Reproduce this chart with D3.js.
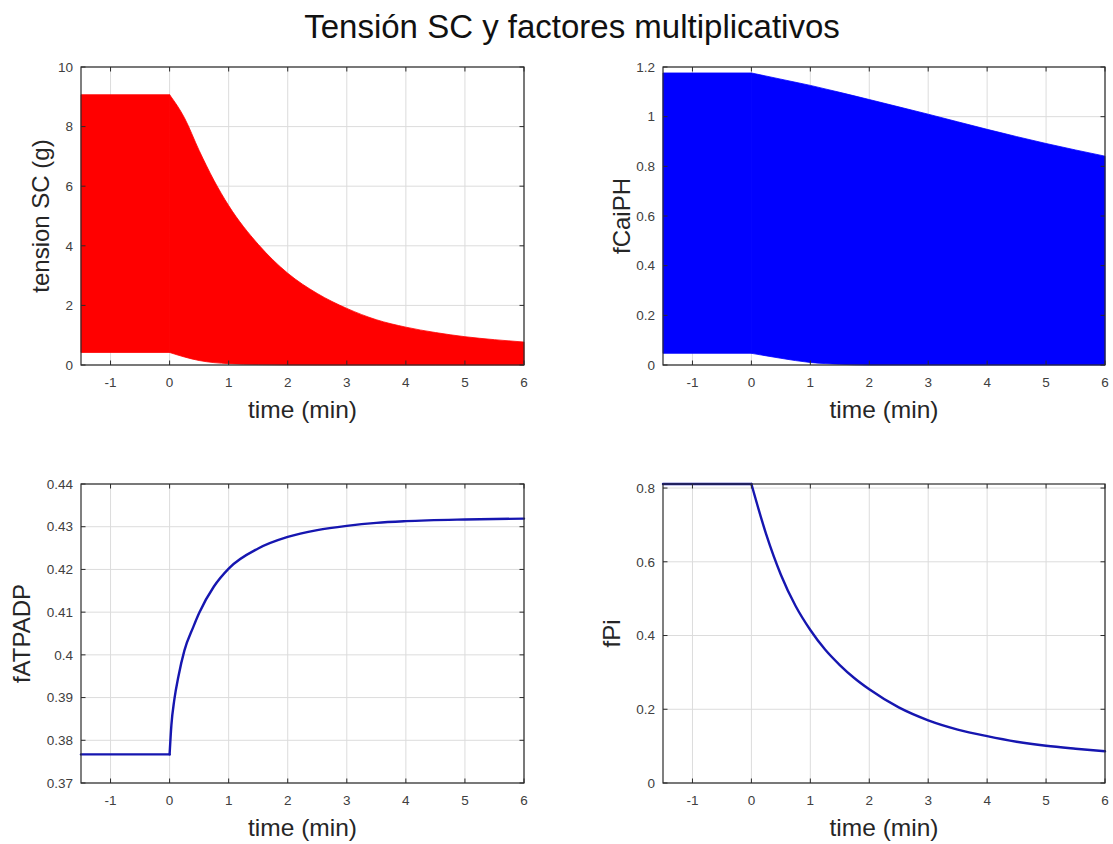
<!DOCTYPE html>
<html>
<head>
<meta charset="utf-8">
<script src="https://cdn.jsdelivr.net/npm/d3@7"></script>
<style>
  html, body { margin: 0; padding: 0; background: #ffffff; }
  svg { display: block; font-family: "Liberation Sans", Arial, Helvetica, sans-serif; }
</style>
</head>
<body>
<svg id="chart" width="1113" height="844"></svg>
<script>
// ---------------- DATA ----------------
const titleText = "Tensión SC y factores multiplicativos";
const xLabel = "time (min)";
const xTicks = [-1, 0, 1, 2, 3, 4, 5, 6];
const xDomain = [-1.5, 6];

// Panel 1: tension SC (g) — oscillation band (upper / lower envelopes)
const tensionTime  = [-1.5, 0, 0.25, 0.5, 0.75, 1, 1.5, 2, 2.5, 3, 3.5, 4, 4.5, 5, 5.5, 6];
const tensionUpper = [9.07, 9.07, 8.3, 7.2, 6.2, 5.35, 4.05, 3.08, 2.4, 1.9, 1.52, 1.27, 1.09, 0.95, 0.85, 0.77];
const tensionLower = [0.42, 0.42, 0.27, 0.15, 0.08, 0.045, 0.015, 0.004, 0, 0, 0, 0, 0, 0, 0, 0];
const tensionYTicks = [0, 2, 4, 6, 8, 10];

// Panel 2: fCaiPH — oscillation band
const fCaiTime  = [-1.5, 0, 0.5, 1, 1.5, 2, 3, 4, 5, 6];
const fCaiUpper = [1.176, 1.176, 1.151, 1.126, 1.098, 1.069, 1.01, 0.949, 0.892, 0.841];
const fCaiLower = [0.047, 0.047, 0.027, 0.01, 0.003, 0, 0, 0, 0, 0];
const fCaiYTicks = [0, 0.2, 0.4, 0.6, 0.8, 1, 1.2];

// Panel 3: fATPADP
const fatpTime  = [-1.5, 0, 0.03, 0.08, 0.15, 0.25, 0.4, 0.5, 0.75, 1, 1.5, 2, 2.5, 3, 3.5, 4, 5, 6];
const fatpValue = [0.3767, 0.3767, 0.3835, 0.3895, 0.3950, 0.4010, 0.4065, 0.4098, 0.416, 0.4202, 0.4249, 0.4276, 0.4292, 0.4302, 0.4309, 0.4313, 0.4317, 0.4319];
const fatpYTicks = [0.37, 0.38, 0.39, 0.4, 0.41, 0.42, 0.43, 0.44];

// Panel 4: fPi
const fPiTime  = [-1.5, 0, 0.25, 0.5, 0.75, 1, 1.25, 1.5, 1.75, 2, 2.5, 3, 3.5, 4, 4.5, 5, 5.5, 6];
const fPiValue = [0.811, 0.811, 0.675, 0.565, 0.48, 0.415, 0.362, 0.32, 0.284, 0.254, 0.205, 0.17, 0.145, 0.127, 0.112, 0.101, 0.093, 0.086];
const fPiYTicks = [0, 0.2, 0.4, 0.6, 0.8];

// ---------------- LAYOUT ----------------
const svg = d3.select("#chart");
const cols = [[81, 524], [663, 1105]];
const rows = [[67, 365], [484, 783]];

svg.append("text")
  .attr("x", 572).attr("y", 38)
  .attr("text-anchor", "middle")
  .attr("font-size", 33)
  .attr("fill", "#111")
  .text(titleText);

// split a series into the flat (t<=0) and transient (t>=0) parts
function splitAtZero(pts) {
  return [pts.filter(d => d.t <= 0), pts.filter(d => d.t >= 0)];
}

function panel(cfg) {
  const [x0, x1] = cols[cfg.col];
  const [y0, y1] = rows[cfg.row];
  const x = d3.scaleLinear().domain(xDomain).range([x0, x1]);
  const y = d3.scaleLinear().domain(cfg.yDomain).range([y1, y0]);
  const g = svg.append("g");

  // grid
  g.selectAll(".gx").data(xTicks).enter().append("line")
    .attr("x1", d => x(d)).attr("x2", d => x(d))
    .attr("y1", y0).attr("y2", y1)
    .attr("stroke", "#dcdcdc").attr("stroke-width", 1);
  g.selectAll(".gy").data(cfg.yTicks).enter().append("line")
    .attr("x1", x0).attr("x2", x1)
    .attr("y1", d => y(d)).attr("y2", d => y(d))
    .attr("stroke", "#dcdcdc").attr("stroke-width", 1);

  // data
  if (cfg.type === "band") {
    const pts = cfg.t.map((t, i) => ({ t, hi: cfg.hi[i], lo: cfg.lo[i] }));
    const [flat, trans] = splitAtZero(pts);
    [[flat, d3.curveLinear], [trans, d3.curveMonotoneX]].forEach(([seg, curve]) => {
      const area = d3.area()
        .x(d => x(d.t)).y0(d => y(d.lo)).y1(d => y(d.hi))
        .curve(curve);
      g.append("path").datum(seg)
        .attr("d", area)
        .attr("fill", cfg.color)
        .attr("stroke", cfg.color).attr("stroke-width", 0.8);
    });
  } else {
    const pts = cfg.t.map((t, i) => ({ t, v: cfg.v[i] }));
    const [flat, trans] = splitAtZero(pts);
    [[flat, d3.curveLinear], [trans, d3.curveMonotoneX]].forEach(([seg, curve]) => {
      const line = d3.line().x(d => x(d.t)).y(d => y(d.v)).curve(curve);
      g.append("path").datum(seg)
        .attr("d", line)
        .attr("fill", "none")
        .attr("stroke", cfg.color).attr("stroke-width", 2.4)
        .attr("stroke-linejoin", "round").attr("stroke-linecap", "round");
    });
  }

  // box
  g.append("rect")
    .attr("x", x0).attr("y", y0).attr("width", x1 - x0).attr("height", y1 - y0)
    .attr("fill", "none").attr("stroke", "#2b2b2b").attr("stroke-width", 1.2);

  // ticks (inward, all sides)
  const tl = 4.5;
  xTicks.forEach(d => {
    g.append("line").attr("x1", x(d)).attr("x2", x(d)).attr("y1", y1).attr("y2", y1 - tl)
      .attr("stroke", "#2b2b2b").attr("stroke-width", 1);
    g.append("line").attr("x1", x(d)).attr("x2", x(d)).attr("y1", y0).attr("y2", y0 + tl)
      .attr("stroke", "#2b2b2b").attr("stroke-width", 1);
  });
  cfg.yTicks.forEach(d => {
    g.append("line").attr("x1", x0).attr("x2", x0 + tl).attr("y1", y(d)).attr("y2", y(d))
      .attr("stroke", "#2b2b2b").attr("stroke-width", 1);
    g.append("line").attr("x1", x1).attr("x2", x1 - tl).attr("y1", y(d)).attr("y2", y(d))
      .attr("stroke", "#2b2b2b").attr("stroke-width", 1);
  });

  // tick labels
  g.selectAll(".xl").data(xTicks).enter().append("text")
    .attr("x", d => x(d)).attr("y", y1 + 22)
    .attr("text-anchor", "middle").attr("font-size", 13.5).attr("fill", "#404040")
    .text(d => String(d));
  g.selectAll(".yl").data(cfg.yTicks).enter().append("text")
    .attr("x", x0 - 8).attr("y", d => y(d)).attr("dy", "0.35em")
    .attr("text-anchor", "end").attr("font-size", 13.5).attr("fill", "#404040")
    .text(d => String(d));

  // axis labels
  g.append("text")
    .attr("x", (x0 + x1) / 2).attr("y", y1 + 53)
    .attr("text-anchor", "middle").attr("font-size", 24.5).attr("fill", "#262626")
    .text(xLabel);
  g.append("text")
    .attr("transform", `translate(${cfg.yLabelX},${(y0 + y1) / 2}) rotate(-90)`)
    .attr("dy", "0.35em")
    .attr("text-anchor", "middle").attr("font-size", 24).attr("fill", "#262626")
    .text(cfg.yLabel);
}

panel({ col: 0, row: 0, type: "band", t: tensionTime, hi: tensionUpper, lo: tensionLower,
        yDomain: [0, 10], yTicks: tensionYTicks, color: "#ff0000", yLabel: "tension SC (g)", yLabelX: 41 });
panel({ col: 1, row: 0, type: "band", t: fCaiTime, hi: fCaiUpper, lo: fCaiLower,
        yDomain: [0, 1.2], yTicks: fCaiYTicks, color: "#0000ff", yLabel: "fCaiPH", yLabelX: 622 });
panel({ col: 0, row: 1, type: "line", t: fatpTime, v: fatpValue,
        yDomain: [0.37, 0.44], yTicks: fatpYTicks, color: "#1616b0", yLabel: "fATPADP", yLabelX: 22 });
panel({ col: 1, row: 1, type: "line", t: fPiTime, v: fPiValue,
        yDomain: [0, 0.811], yTicks: fPiYTicks, color: "#1616b0", yLabel: "fPi", yLabelX: 612 });
</script>
</body>
</html>
